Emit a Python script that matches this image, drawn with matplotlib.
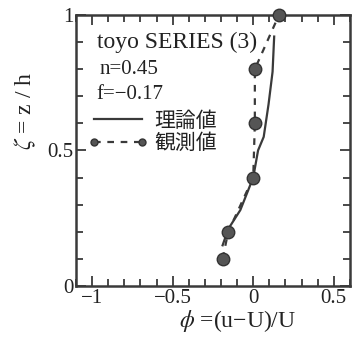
import matplotlib.pyplot as plt
from matplotlib.ticker import MultipleLocator
from matplotlib.lines import Line2D

plt.rcParams['font.family'] = ['Liberation Serif', 'Noto Sans CJK JP']
plt.rcParams['mathtext.fontset'] = 'stix'

# observed profile (dots + dashed line)
obs_zeta = [0.1, 0.2, 0.4, 0.6, 0.8, 1.0]
obs_phi = [-0.19, -0.155, 0.0, 0.01, 0.01, 0.16]

# theoretical profile (solid line)
theo_zeta = [0.15, 0.21, 0.28, 0.40, 0.50, 0.55, 0.67, 0.79, 0.92]
theo_phi = [-0.19, -0.155, -0.08, 0.0, 0.03, 0.065, 0.095, 0.12, 0.13]

series_title = "toyo SERIES (3)"
params = ["n=0.45", "f=\u22120.17"]
legend_labels = ["理論値", "観測値"]
xticks = [-1, -0.5, 0, 0.5]
xtick_labels = ["\u22121", "\u22120.5", "0", "0.5"]
yticks = [0, 0.5, 1]
ytick_labels = ["0", "0.5", "1"]

ink = "#3a3a3a"
txt = "#222222"

fig = plt.figure(figsize=(3.6, 3.38), dpi=100)
ax = fig.add_axes([0.211, 0.154, 0.761, 0.802])

ax.plot(theo_phi, theo_zeta, color=ink, lw=1.6, zorder=3)
ax.plot(obs_phi, obs_zeta, color=ink, lw=1.6, ls=(0, (3, 3)), zorder=2)
ax.plot(obs_phi, obs_zeta, ls="none", marker="o", ms=9,
        mfc="#555555", mec="#333333", mew=1.0, zorder=4, clip_on=False)

ax.set_xlim(-1.1, 0.6)
ax.set_ylim(0, 1)
ax.xaxis.set_minor_locator(MultipleLocator(0.1))
ax.yaxis.set_minor_locator(MultipleLocator(0.1))
ax.set_xticks(xticks)
ax.set_xticklabels(xtick_labels)
ax.set_yticks(yticks)
ax.set_yticklabels(ytick_labels)
ax.tick_params(which="both", direction="in", top=True, right=True,
               width=1.3, color=ink, labelsize=15, labelcolor=txt)
ax.tick_params(which="major", length=7, pad=2)
ax.tick_params(which="minor", length=5)
for s in ax.spines.values():
    s.set_linewidth(1.8)
    s.set_color(ink)

ax.set_xlabel("$\\phi$ =(u\u2212U)/U", fontsize=17, color=txt)
ax.xaxis.set_label_coords(0.59, -0.08)
ax.set_ylabel("$\\zeta$ = z / h", fontsize=17, color=txt)
ax.yaxis.set_label_coords(-0.14, 0.645)

ax.text(0.075, 0.90, series_title, transform=ax.transAxes, fontsize=17,
        color=txt, va="center")
ax.text(0.085, 0.80, params[0], transform=ax.transAxes, fontsize=15,
        color=txt, va="center")
ax.text(0.075, 0.705, params[1], transform=ax.transAxes, fontsize=15,
        color=txt, va="center")

handles = [Line2D([], [], color=ink, lw=1.6),
           Line2D([], [], color=ink, lw=1.6, ls=(0, (3, 3)), marker="o",
                  ms=5, mfc="#555555", mec="#333333")]
leg = ax.legend(handles, legend_labels, loc="upper left", numpoints=2,
                bbox_to_anchor=(-0.01, 0.695), frameon=False, fontsize=15,
                handlelength=2.9, handletextpad=0.3, labelspacing=0.12,
                borderaxespad=0.3)
for t in leg.get_texts():
    t.set_color(txt)

fig.savefig("out.png", dpi=100)
